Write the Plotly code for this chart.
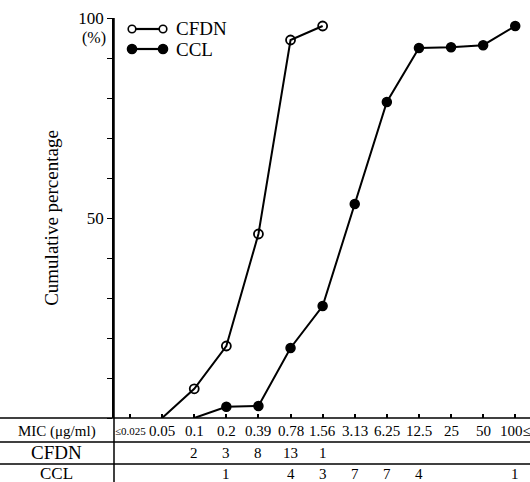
import plotly.graph_objects as go

mic = ["≤0.025", "0.05", "0.1", "0.2", "0.39", "0.78", "1.56", "3.13", "6.25", "12.5", "25", "50", "100≤"]

cfdn_x = ["0.05", "0.1", "0.2", "0.39", "0.78", "1.56"]
cfdn_cum = [0, 7.3, 18, 46, 94.5, 98]
cfdn_counts = {"0.1": "2", "0.2": "3", "0.39": "8", "0.78": "13", "1.56": "1"}

ccl_x = ["0.1", "0.2", "0.39", "0.78", "1.56", "3.13", "6.25", "12.5", "25", "50", "100≤"]
ccl_cum = [0, 2.8, 3, 17.5, 28, 53.5, 79, 92.5, 92.7, 93.2, 98]
ccl_counts = {"0.2": "1", "0.78": "4", "1.56": "3", "3.13": "7", "6.25": "7", "12.5": "4", "100≤": "1"}

SERIF = "Liberation Serif, Times New Roman, serif"
W, H = 530, 482
L, T, B = 114, 18, 64
PW, PH = W - L, H - T - B


def px(xp):
    return (xp - L) / PW


def py(yp):
    return (H - B - yp) / PH


fig = go.Figure()
fig.add_trace(go.Scatter(
    x=cfdn_x, y=cfdn_cum, mode="lines+markers", name="CFDN",
    line=dict(color="black", width=2),
    marker=dict(symbol="circle-open", size=[0] + [9] * (len(cfdn_x) - 1),
                color="black", opacity=1, line=dict(width=1.8)),
    showlegend=False, cliponaxis=False, hoverinfo="skip"))
fig.add_trace(go.Scatter(
    x=ccl_x, y=ccl_cum, mode="lines+markers", name="CCL",
    line=dict(color="black", width=2),
    marker=dict(symbol="circle", size=[0] + [9] * (len(ccl_x) - 1), color="#000000",
                opacity=1, line=dict(color="#000000", width=1.5)),
    showlegend=False, cliponaxis=False, hoverinfo="skip"))

shapes = []
for yp in [418, 442, 464]:
    shapes.append(dict(type="line", xref="paper", yref="paper", x0=px(0), x1=1,
                       y0=py(yp), y1=py(yp), line=dict(color="black", width=1.5)))
shapes.append(dict(type="line", xref="paper", yref="paper", x0=0, x1=0,
                   y0=py(482), y1=1, line=dict(color="black", width=1.5)))

for yp, filled in [(29, False), (49, True)]:
    shapes.append(dict(type="line", xref="paper", yref="paper", x0=px(132), x1=px(163),
                       y0=py(yp), y1=py(yp), line=dict(color="black", width=2.2)))
    r = 4.5 if filled else 3.8
    for xc in [132, 163]:
        shapes.append(dict(type="circle", xref="paper", yref="paper",
                           x0=px(xc - r), x1=px(xc + r), y0=py(yp + r), y1=py(yp - r),
                           line=dict(color="black", width=1.6),
                           fillcolor="black" if filled else "white"))

ann = []
ann.append(dict(text="CFDN", xref="paper", yref="paper", x=px(174), y=py(28),
                xanchor="left", yanchor="middle", showarrow=False,
                font=dict(family=SERIF, size=19, color="black")))
ann.append(dict(text="CCL", xref="paper", yref="paper", x=px(174), y=py(49),
                xanchor="left", yanchor="middle", showarrow=False,
                font=dict(family=SERIF, size=19, color="black")))
ann.append(dict(text="(%)", xref="paper", yref="paper", x=px(108), y=py(38),
                xanchor="right", yanchor="middle", showarrow=False,
                font=dict(family=SERIF, size=16, color="black")))
for lab, yp, sz in [("MIC (μg/ml)", 431, 15), ("CFDN", 453, 19), ("CCL", 473, 17)]:
    ann.append(dict(text=lab, xref="paper", yref="paper", x=px(57), y=py(yp),
                    xanchor="center", yanchor="middle", showarrow=False,
                    font=dict(family=SERIF, size=sz, color="black")))
for i, m in enumerate(mic):
    ann.append(dict(text=m, xref="x", yref="paper", x=i, y=py(431),
                    xanchor="center", yanchor="middle", showarrow=False,
                    font=dict(family=SERIF, size=11 if m == "≤0.025" else 15, color="black")))
for m, c in cfdn_counts.items():
    ann.append(dict(text=c, xref="x", yref="paper", x=mic.index(m), y=py(453),
                    xanchor="center", yanchor="middle", showarrow=False,
                    font=dict(family=SERIF, size=15, color="black")))
for m, c in ccl_counts.items():
    ann.append(dict(text=c, xref="x", yref="paper", x=mic.index(m), y=py(474),
                    xanchor="center", yanchor="middle", showarrow=False,
                    font=dict(family=SERIF, size=15, color="black")))

fig.update_layout(
    width=W, height=H, margin=dict(l=L, r=0, t=T, b=B),
    paper_bgcolor="white", plot_bgcolor="white",
    shapes=shapes, annotations=ann, hovermode=False,
    xaxis=dict(type="category", categoryorder="array", categoryarray=mic,
               range=[-0.5, 12.46], showgrid=False, zeroline=False, showline=False,
               ticks="inside", ticklen=4, tickwidth=1.5, tickcolor="black",
               tickvals=mic, showticklabels=False),
    yaxis=dict(range=[0, 100], showgrid=False, zeroline=False, showline=True,
               linecolor="black", linewidth=1.5,
               ticks="outside", ticklen=5, tickwidth=1.2, tickcolor="black",
               tickvals=list(range(0, 101, 10)),
               ticktext=["", "", "", "", "", "50", "", "", "", "", "100"],
               tickfont=dict(family=SERIF, size=17, color="black"),
               title=dict(text="Cumulative percentage", standoff=15,
                          font=dict(family=SERIF, size=19, color="black"))),
)

fig.write_html("out.html", config={"displayModeBar": False},
               post_script="document.body.style.margin='0';document.body.style.overflow='hidden';")
